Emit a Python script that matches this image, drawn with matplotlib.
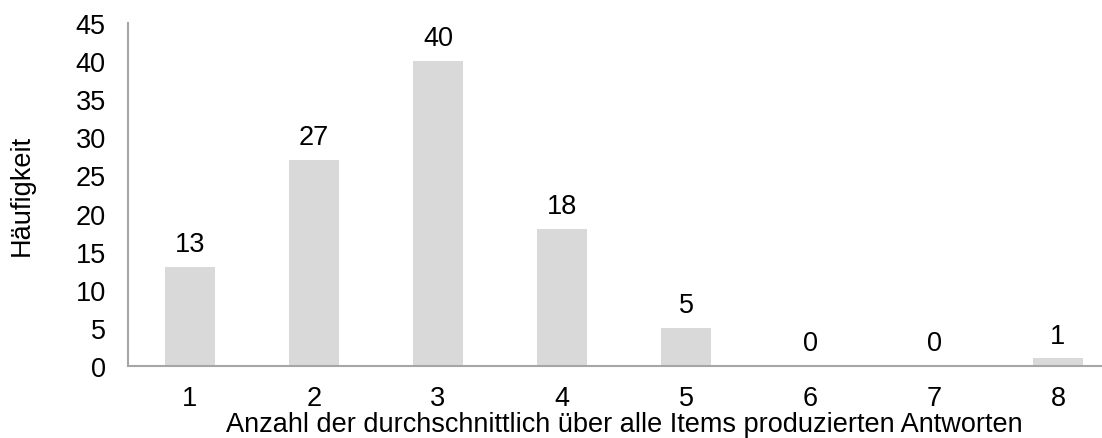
import matplotlib
matplotlib.use("Agg")
import matplotlib.pyplot as plt

# Häufigkeitsverteilung der durchschnittlich produzierten Antworten
categories = ["1", "2", "3", "4", "5", "6", "7", "8"]
counts = [13, 27, 40, 18, 5, 0, 0, 1]
yticks = [0, 5, 10, 15, 20, 25, 30, 35, 40, 45]

plt.rcParams["font.family"] = ["Liberation Sans", "DejaVu Sans"]
FS = 19.5

fig = plt.figure(figsize=(11.02, 4.39), dpi=100)
# axes run past the right edge, as in the original export
ax = fig.add_axes([128 / 1102, 72 / 439, 992 / 1102, 343 / 439])

x = list(range(1, len(categories) + 1))
bars = ax.bar(x, counts, width=0.4, color="#d9d9d9", edgecolor="none")

for xi, v in zip(x, counts):
    ax.annotate(str(v), (xi, v), xytext=(0, 7), textcoords="offset points",
                ha="center", va="bottom", fontsize=FS, color="black")

ax.set_xlim(0.5, len(categories) + 0.5)
ax.set_ylim(0, 45)
ax.set_xticks(x)
ax.set_xticklabels(categories)
ax.set_yticks(yticks)
ax.tick_params(axis="both", length=0, labelsize=FS)
ax.tick_params(axis="x", pad=14)
ax.tick_params(axis="y", pad=16)

for side in ["top", "right"]:
    ax.spines[side].set_visible(False)
for side in ["left", "bottom"]:
    ax.spines[side].set_color("#a6a6a6")
    ax.spines[side].set_linewidth(1.5)

ax.set_xlabel("Anzahl der durchschnittlich über alle Items produzierten Antworten",
              fontsize=FS, labelpad=0)
ax.set_ylabel("Häufigkeit", fontsize=FS, va="center")
ax.yaxis.set_label_coords(-0.107, 0.5)

fig.savefig("out.png", dpi=100)
